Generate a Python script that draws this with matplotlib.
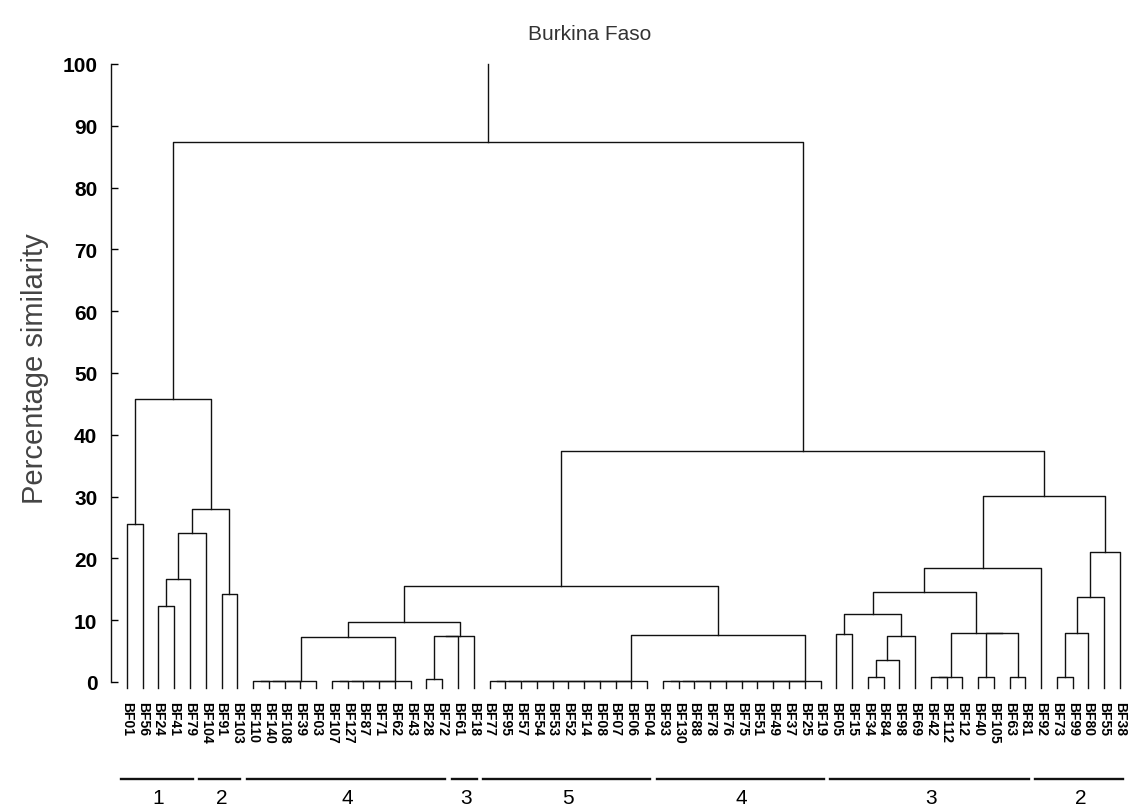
import matplotlib.pyplot as plt

# Leaf order along the x axis
leaves = ["BF01", "BF56", "BF24", "BF41", "BF79", "BF104", "BF91", "BF103",
          "BF110", "BF140", "BF108", "BF39", "BF03",
          "BF107", "BF127", "BF87", "BF71", "BF62", "BF43",
          "BF28", "BF72", "BF61", "BF18",
          "BF77", "BF95", "BF57", "BF54", "BF53", "BF52", "BF14", "BF08", "BF07", "BF06", "BF04",
          "BF93", "BF130", "BF88", "BF78", "BF76", "BF75", "BF51", "BF49", "BF37", "BF25", "BF19",
          "BF05", "BF15", "BF34", "BF84", "BF98", "BF69", "BF42", "BF112", "BF12",
          "BF40", "BF105", "BF63", "BF81",
          "BF92", "BF73", "BF99", "BF80", "BF55", "BF38"]

# Cluster joins: (node, members, % similarity). Members are merged one after another.
joins = [
    ("c1", ["BF01", "BF56"], 25.6),
    ("c2", ["BF24", "BF41"], 12.3),
    ("c3", ["c2", "BF79"], 16.7),
    ("c4", ["c3", "BF104"], 24.1),
    ("c5", ["BF91", "BF103"], 14.2),
    ("c6", ["c4", "c5"], 28.0),
    ("c7", ["c1", "c6"], 45.8),
    ("c8", ["BF110", "BF140", "BF108", "BF39", "BF03"], 0.2),
    ("c9", ["BF107", "BF127", "BF87", "BF71", "BF62", "BF43"], 0.2),
    ("c10", ["c8", "c9"], 7.3),
    ("c11", ["BF28", "BF72"], 0.5),
    ("c12", ["c11", "BF61", "BF18"], 7.4),
    ("c13", ["c10", "c12"], 9.7),
    ("c14", ["BF77", "BF95", "BF57", "BF54", "BF53", "BF52", "BF14",
             "BF08", "BF07", "BF06", "BF04"], 0.2),
    ("c15", ["BF93", "BF130", "BF88", "BF78", "BF76", "BF75", "BF51",
             "BF49", "BF37", "BF25", "BF19"], 0.2),
    ("c16", ["c14", "c15"], 7.6),
    ("c17", ["c13", "c16"], 15.5),
    ("c18", ["BF05", "BF15"], 7.8),
    ("c19", ["BF34", "BF84"], 0.8),
    ("c20", ["c19", "BF98"], 3.6),
    ("c21", ["c20", "BF69"], 7.4),
    ("c22", ["c18", "c21"], 11.0),
    ("c23", ["BF42", "BF112", "BF12"], 0.8),
    ("c24", ["BF40", "BF105"], 0.8),
    ("c25", ["BF63", "BF81"], 0.8),
    ("c26", ["c24", "c25"], 7.9),
    ("c27", ["c23", "c26"], 7.9),
    ("c28", ["c22", "c27"], 14.6),
    ("c29", ["c28", "BF92"], 18.4),
    ("c30", ["BF73", "BF99"], 0.8),
    ("c31", ["c30", "BF80"], 7.9),
    ("c32", ["c31", "BF55"], 13.8),
    ("c33", ["c32", "BF38"], 21.0),
    ("c34", ["c29", "c33"], 30.1),
    ("c35", ["c17", "c34"], 37.3),
    ("c36", ["c7", "c35"], 87.4),
]

# Groups marked under the leaves
group_names = ["1", "2", "4", "3", "5", "4", "3", "2"]
group_sizes = [5, 3, 13, 2, 11, 11, 13, 6]

leaf_base = -0.9

plt.rcParams['font.family'] = ['Liberation Sans', 'DejaVu Sans']

fig = plt.figure(figsize=(11.29, 8.12), dpi=100)
ax = fig.add_axes([0.0985, 0.1589, 0.9005, 0.7611])

# draw the dendrogram: each merge is a U joining the current node to the next member
pos = {name: (i, leaf_base) for i, name in enumerate(leaves)}
line_kw = dict(color='#111111', lw=1.0, clip_on=False)
for node, members, h in joins:
    x0, h0 = pos[members[0]]
    for m in members[1:]:
        x1, h1 = pos[m]
        ax.plot([x0, x0, x1, x1], [h0, h, h, h1], **line_kw)
        x0, h0 = (x0 + x1) / 2, h
    pos[node] = (x0, h0)

# root stem up to the top of the scale
root_x, root_h = pos[joins[-1][0]]
ax.plot([root_x, root_x], [root_h, 100], **line_kw)

ax.set_xlim(-1, 63.5)
ax.set_ylim(0, 100)
for side in ['top', 'right', 'bottom']:
    ax.spines[side].set_visible(False)
ax.spines['left'].set_bounds(0, 100)
ax.spines['left'].set_linewidth(1.0)
ax.spines['left'].set_color('#111111')

ax.set_yticks(range(0, 101, 10))
ax.tick_params(axis='y', direction='in', length=5, width=1.0, pad=10, labelsize=15)
for lbl in ax.get_yticklabels():
    lbl.set_fontweight('bold')

ax.set_xticks(range(len(leaves)), leaves, rotation=270, fontsize=10, fontweight='bold')
ax.tick_params(axis='x', length=0, pad=14)

# group bars and numbers
start = 0
for name, n in zip(group_names, group_sizes):
    end = start + n - 1
    ax.plot([start - 0.4, end + 0.2], [-15.7, -15.7], color='#111111', lw=1.7, clip_on=False)
    ax.text((start + end) / 2, -18.7, name, ha='center', va='center', fontsize=15)
    start += n

fig.text(0.5226, 0.957, 'Burkina Faso', ha='center', va='center', fontsize=15, color='#333333')
fig.text(0.031, 0.5456, 'Percentage similarity', rotation=90, ha='center', va='center',
         fontsize=21, color='#444444')

fig.savefig('out.png', dpi=100)
